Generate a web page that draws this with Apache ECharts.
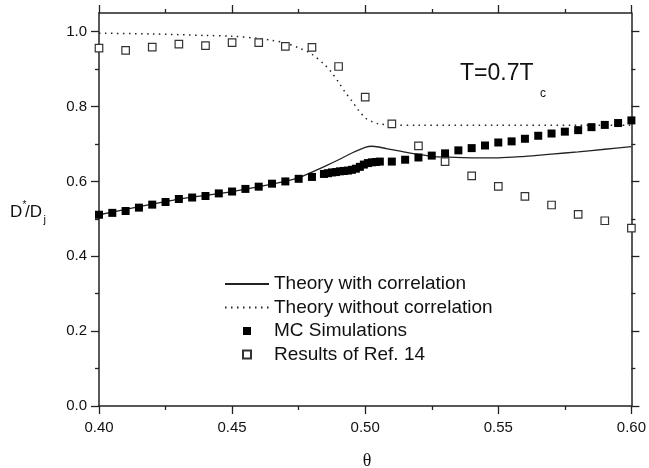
<!DOCTYPE html>
<html>
<head>
<meta charset="utf-8">
<script src="https://cdn.jsdelivr.net/npm/echarts@6/dist/echarts.min.js"></script>
<style>html,body{margin:0;padding:0;background:#fff;}#c{width:649px;height:468px;}</style>
</head>
<body>
<div id="c"></div>
<script>
// ---- data ----
var xTicks = [0.40, 0.45, 0.50, 0.55, 0.60];
var yTicks = [0.0, 0.2, 0.4, 0.6, 0.8, 1.0];
var yMinorTicks = [0.1, 0.3, 0.5, 0.7, 0.9];

var corrX = [0.40, 0.43, 0.45, 0.47, 0.475, 0.48, 0.485, 0.49, 0.495, 0.50, 0.5025, 0.505, 0.51, 0.515, 0.52, 0.525, 0.53, 0.54, 0.55, 0.56, 0.57, 0.58, 0.59, 0.60];
var corrY = [0.511, 0.553, 0.573, 0.600, 0.610, 0.625, 0.641, 0.658, 0.676, 0.691, 0.694, 0.692, 0.685, 0.678, 0.672, 0.667, 0.665, 0.663, 0.663, 0.667, 0.673, 0.679, 0.686, 0.693];

var noCorrX = [0.40, 0.42, 0.44, 0.45, 0.46, 0.465, 0.47, 0.475, 0.48, 0.485, 0.4875, 0.49, 0.4925, 0.495, 0.4975, 0.50, 0.5025, 0.505, 0.51, 0.52, 0.55, 0.60];
var noCorrY = [0.996, 0.994, 0.990, 0.988, 0.982, 0.977, 0.970, 0.957, 0.940, 0.910, 0.890, 0.865, 0.838, 0.815, 0.790, 0.770, 0.760, 0.754, 0.751, 0.750, 0.750, 0.750];

var mcX = [0.400, 0.405, 0.410, 0.415, 0.420, 0.425, 0.430, 0.435, 0.440, 0.445, 0.450, 0.455, 0.460, 0.465, 0.470, 0.475, 0.480,
           0.4845, 0.486, 0.4875, 0.489, 0.4905, 0.492, 0.4935, 0.495, 0.4965, 0.498, 0.4995, 0.501, 0.5025, 0.504, 0.5055,
           0.510, 0.515, 0.520, 0.525, 0.530, 0.535, 0.540, 0.545, 0.550, 0.555, 0.560, 0.565, 0.570, 0.575, 0.580, 0.585, 0.590, 0.595, 0.600];
var mcY = [0.511, 0.516, 0.521, 0.530, 0.538, 0.545, 0.553, 0.557, 0.561, 0.568, 0.573, 0.580, 0.586, 0.594, 0.600, 0.607, 0.612,
           0.620, 0.622, 0.624, 0.625, 0.627, 0.628, 0.629, 0.631, 0.634, 0.639, 0.645, 0.649, 0.651, 0.652, 0.653,
           0.653, 0.658, 0.664, 0.669, 0.675, 0.683, 0.689, 0.696, 0.704, 0.707, 0.714, 0.722, 0.728, 0.733, 0.737, 0.745, 0.751, 0.756, 0.763];

var refX = [0.40, 0.41, 0.42, 0.43, 0.44, 0.45, 0.46, 0.47, 0.48, 0.49, 0.50, 0.51, 0.52, 0.53, 0.54, 0.55, 0.56, 0.57, 0.58, 0.59, 0.60];
var refY = [0.956, 0.950, 0.959, 0.967, 0.963, 0.971, 0.971, 0.961, 0.958, 0.907, 0.825, 0.754, 0.695, 0.653, 0.615, 0.587, 0.560, 0.537, 0.512, 0.495, 0.475];

var seriesNames = ['Theory with correlation', 'Theory without correlation', 'MC Simulations', 'Results of Ref. 14'];

function zip(a, b) { return a.map(function (v, i) { return [v, b[i]]; }); }

var AX = '#222';
var FONT = '"Liberation Sans", Arial, sans-serif';

function xAxisDef(pos, labels) {
  return {
    type: 'value', position: pos, min: 0.4, max: 0.6, interval: 0.05,
    axisLine: { show: true, onZero: false, lineStyle: { color: AX, width: 1.5 } },
    axisTick: { show: true, inside: false, length: 8, lineStyle: { color: AX, width: 1.3 } },
    minorTick: { show: true, splitNumber: 2, length: 4, lineStyle: { color: AX, width: 1.3 } },
    splitLine: { show: false }, minorSplitLine: { show: false },
    axisLabel: { show: labels, margin: 14, color: '#111', fontSize: 15, fontFamily: FONT,
      formatter: function (v) { return v.toFixed(2); } }
  };
}
function yAxisDef(pos, labels) {
  return {
    type: 'value', position: pos, min: 0, max: 1.05, interval: 0.2,
    axisLine: { show: true, onZero: false, lineStyle: { color: AX, width: 1.5 } },
    axisTick: { show: true, inside: false, length: 8, customValues: yTicks, lineStyle: { color: AX, width: 1.3 } },
    splitLine: { show: false },
    axisLabel: { show: labels, margin: 12, color: '#111', fontSize: 15, fontFamily: FONT, customValues: yTicks,
      formatter: function (v) { return v > 1.01 ? '' : v.toFixed(1); } }
  };
}
function yMinorDef(pos) {
  return {
    type: 'value', position: pos, min: 0, max: 1.05, interval: 0.1,
    axisLine: { show: false },
    axisTick: { show: true, inside: false, length: 4, customValues: yMinorTicks, lineStyle: { color: AX, width: 1.3 } },
    splitLine: { show: false }, axisLabel: { show: false }
  };
}

var chart = echarts.init(document.getElementById('c'), null, { renderer: 'canvas' });
chart.setOption({
  animation: false,
  backgroundColor: '#fff',
  grid: { left: 99, right: 17, top: 13, bottom: 62, containLabel: false },
  xAxis: [xAxisDef('bottom', true), xAxisDef('top', false)],
  yAxis: [yAxisDef('left', true), yAxisDef('right', false), yMinorDef('left'), yMinorDef('right')],
  legend: [
    {
      orient: 'vertical', left: 224, top: 274.5, padding: 0, itemWidth: 44, itemHeight: 8, itemGap: 4.4,
      textStyle: { fontSize: 19, fontFamily: FONT, color: '#111' },
      itemStyle: { opacity: 0, color: 'rgba(0,0,0,0)', borderWidth: 0 },
      data: [seriesNames[0], seriesNames[1]]
    },
    {
      orient: 'vertical', left: 242, top: 321.5, padding: 0, itemWidth: 8, itemHeight: 8, itemGap: 4.4,
      textStyle: { fontSize: 19, fontFamily: FONT, color: '#111', padding: [0, 0, 0, 18] },
      data: [seriesNames[2], seriesNames[3]]
    }
  ],
  series: [
    { name: seriesNames[0], type: 'line', symbol: 'none', smooth: 0.3, data: zip(corrX, corrY),
      lineStyle: { color: '#222', width: 1.3, type: 'solid' }, itemStyle: { color: '#222' }, z: 2 },
    { name: seriesNames[1], type: 'line', symbol: 'none', smooth: 0.3, data: zip(noCorrX, noCorrY),
      lineStyle: { color: '#222', width: 1.5, type: [1.5, 4.5] }, itemStyle: { color: '#222' }, z: 2 },
    { name: seriesNames[2], type: 'scatter', symbol: 'rect', symbolSize: 8, data: zip(mcX, mcY),
      itemStyle: { color: '#000', borderColor: '#000', borderWidth: 0, opacity: 1 }, z: 3 },
    { name: seriesNames[3], type: 'scatter', symbol: 'rect', symbolSize: 7.5, data: zip(refX, refY),
      itemStyle: { color: '#fff', borderColor: '#333', borderWidth: 1.2, opacity: 1 }, z: 4 }
  ],
  graphic: [
    { type: 'text', x: 460, y: 74, style: { text: 'T=0.7T', font: '23px ' + FONT, fill: '#111', align: 'left', verticalAlign: 'middle', textAlign: 'left', textVerticalAlign: 'middle' } },
    { type: 'text', x: 540, y: 94, style: { text: 'c', font: '12px ' + FONT, fill: '#111', align: 'left', verticalAlign: 'middle', textAlign: 'left', textVerticalAlign: 'middle' } },
    { type: 'text', x: 10, y: 212, style: { text: 'D', font: '17px ' + FONT, fill: '#111', align: 'left', verticalAlign: 'middle', textAlign: 'left', textVerticalAlign: 'middle' } },
    { type: 'text', x: 22.5, y: 205, style: { text: '*', font: '10px ' + FONT, fill: '#111', align: 'left', verticalAlign: 'middle', textAlign: 'left', textVerticalAlign: 'middle' } },
    { type: 'text', x: 25, y: 212, style: { text: '/D', font: '17px ' + FONT, fill: '#111', align: 'left', verticalAlign: 'middle', textAlign: 'left', textVerticalAlign: 'middle' } },
    { type: 'text', x: 43.5, y: 220, style: { text: 'j', font: '11px ' + FONT, fill: '#111', align: 'left', verticalAlign: 'middle', textAlign: 'left', textVerticalAlign: 'middle' } },
    { type: 'text', x: 367, y: 461, style: { text: 'θ', font: '18px "Liberation Serif", "Times New Roman", serif', fill: '#111', align: 'center', verticalAlign: 'middle', textAlign: 'center', textVerticalAlign: 'middle' } }
  ]
});
</script>
</body>
</html>
